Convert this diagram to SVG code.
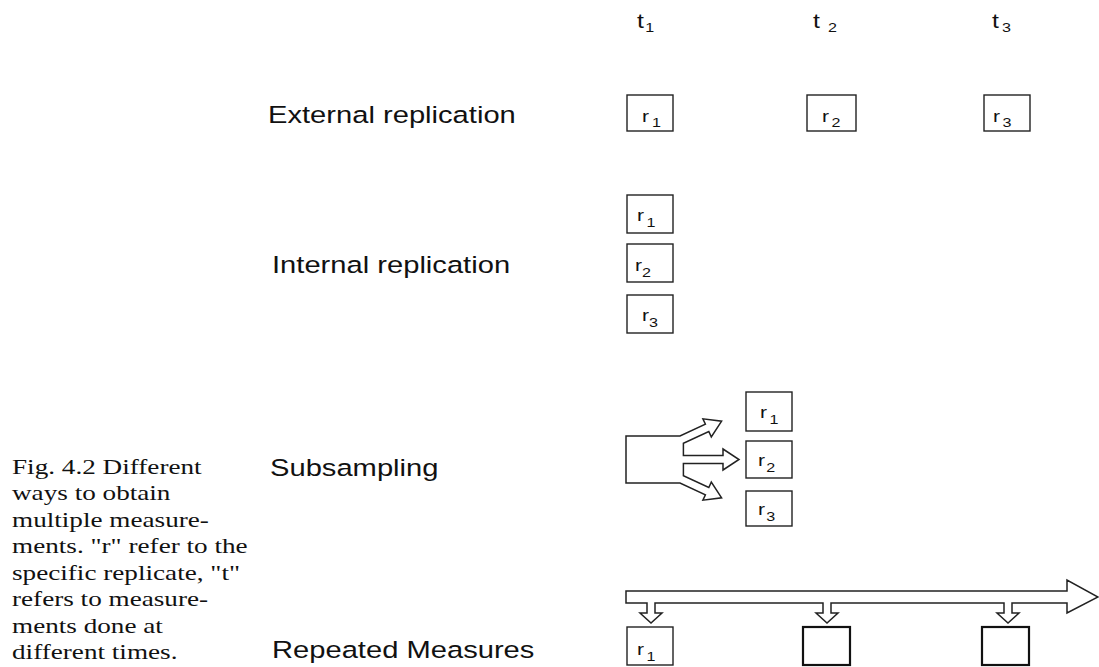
<svg xmlns="http://www.w3.org/2000/svg" width="1099" height="667" viewBox="0 0 1099 667">
<style>
.lbl{font-family:"Liberation Sans",Arial,sans-serif;font-size:23.5px;fill:#111}
.cap{font-family:"Liberation Serif","Times New Roman",serif;font-size:22px;fill:#111}
.t{font-family:"Liberation Sans",Arial,sans-serif;font-size:20px;fill:#111}
.r{font-family:"Liberation Sans",Arial,sans-serif;font-size:17px;fill:#111}
.sub{font-size:13px}
.box{fill:none;stroke:#222;stroke-width:1.4}
.box2{fill:none;stroke:#111;stroke-width:2.2}
.arr{fill:#fff;stroke:#222;stroke-width:1.5;stroke-linejoin:miter}
</style>
<rect width="1099" height="667" fill="#fff"/>

<g id="caption">
<text class="cap" transform="translate(12,474) scale(1.235,1)">Fig. 4.2 Different</text>
<text class="cap" transform="translate(12,500.4) scale(1.235,1)">ways to obtain</text>
<text class="cap" transform="translate(12,526.9) scale(1.235,1)">multiple measure-</text>
<text class="cap" transform="translate(12,553.3) scale(1.235,1)">ments. "r" refer to the</text>
<text class="cap" transform="translate(12,579.7) scale(1.235,1)">specific replicate, "t"</text>
<text class="cap" transform="translate(12,606.1) scale(1.235,1)">refers to measure-</text>
<text class="cap" transform="translate(12,632.6) scale(1.235,1)">ments done at</text>
<text class="cap" transform="translate(12,659) scale(1.235,1)">different times.</text>
</g>

<g id="time-labels">
<text class="t" transform="translate(637,28) scale(1.24,1)">t<tspan class="sub" dx="1" dy="4">1</tspan></text>
<text class="t" transform="translate(813,28) scale(1.24,1)">t<tspan class="sub" dx="6.5" dy="4">2</tspan></text>
<text class="t" transform="translate(992,28) scale(1.24,1)">t<tspan class="sub" dx="2.5" dy="4">3</tspan></text>
</g>

<g id="row-labels">
<text class="lbl" transform="translate(268,123.3) scale(1.24,1)">External replication</text>
<text class="lbl" transform="translate(272,273.3) scale(1.24,1)">Internal replication</text>
<text class="lbl" transform="translate(270,476) scale(1.24,1)">Subsampling</text>
<text class="lbl" transform="translate(272,658.3) scale(1.24,1)">Repeated Measures</text>
</g>

<g id="connectors">
<path id="subsampling-arrows" class="arr" d="M626,436 L680,436 L705.4,424.2 L702.9,418.8 L721.6,421.2 L711.3,436.9 L708.8,431.5 L683.4,443.3 L683.4,455.5 L723,455.5 L723,449 L739,459.5 L723,470 L723,463.5 L683.4,463.5 L683.4,475.7 L708.8,487.5 L711.3,482.1 L721.6,497.8 L702.9,500.2 L705.4,494.8 L680,483 L626,483 Z"/>
<path id="timeline-arrow" class="arr" d="M626,591 L1067,591 L1067,580 L1098,597 L1067,613 L1067,603 L1012,603 L1012,613 L1019,613 L1008,623 L997,613 L1004,613 L1004,603 L831,603 L831,613 L838,613 L827,623 L816,613 L823,613 L823,603 L655,603 L655,613 L662,613 L651,623 L640,613 L647,613 L647,603 L626,603 Z"/>
</g>

<g id="external-r1"><rect class="box" x="627" y="95" width="46" height="36"/><text class="r" transform="translate(642,122) scale(1.24,1)">r<tspan class="sub" dx="2.5" dy="5">1</tspan></text></g>
<g id="external-r2"><rect class="box" x="807" y="95" width="49" height="36"/><text class="r" transform="translate(822,122) scale(1.24,1)">r<tspan class="sub" dx="2" dy="5">2</tspan></text></g>
<g id="external-r3"><rect class="box" x="984" y="95" width="46" height="36"/><text class="r" transform="translate(993,122) scale(1.24,1)">r<tspan class="sub" dx="2" dy="5">3</tspan></text></g>

<g id="internal-r1"><rect class="box" x="627" y="195" width="46" height="38"/><text class="r" transform="translate(637,221) scale(1.24,1)">r<tspan class="sub" dx="2" dy="6">1</tspan></text></g>
<g id="internal-r2"><rect class="box" x="627" y="244" width="46" height="38"/><text class="r" transform="translate(635,271) scale(1.24,1)">r<tspan class="sub" dx="0" dy="6">2</tspan></text></g>
<g id="internal-r3"><rect class="box" x="627" y="295" width="46" height="38"/><text class="r" transform="translate(642,321) scale(1.24,1)">r<tspan class="sub" dx="0" dy="6">3</tspan></text></g>

<g id="subsample-r1"><rect class="box" x="746" y="392" width="46" height="39"/><text class="r" transform="translate(760,418) scale(1.24,1)">r<tspan class="sub" dx="2" dy="6">1</tspan></text></g>
<g id="subsample-r2"><rect class="box" x="746" y="441" width="46" height="37"/><text class="r" transform="translate(758,466) scale(1.24,1)">r<tspan class="sub" dx="1" dy="6">2</tspan></text></g>
<g id="subsample-r3"><rect class="box" x="746" y="491" width="46" height="35"/><text class="r" transform="translate(758,515) scale(1.24,1)">r<tspan class="sub" dx="1" dy="6">3</tspan></text></g>

<g id="repeated-r1"><rect class="box" x="627" y="627" width="46" height="38"/><text class="r" transform="translate(637,655) scale(1.24,1)">r<tspan class="sub" dx="2" dy="6">1</tspan></text></g>
<g id="repeated-2"><rect class="box2" x="803" y="627" width="47" height="38"/></g>
<g id="repeated-3"><rect class="box2" x="982" y="627" width="47" height="38"/></g>
</svg>
